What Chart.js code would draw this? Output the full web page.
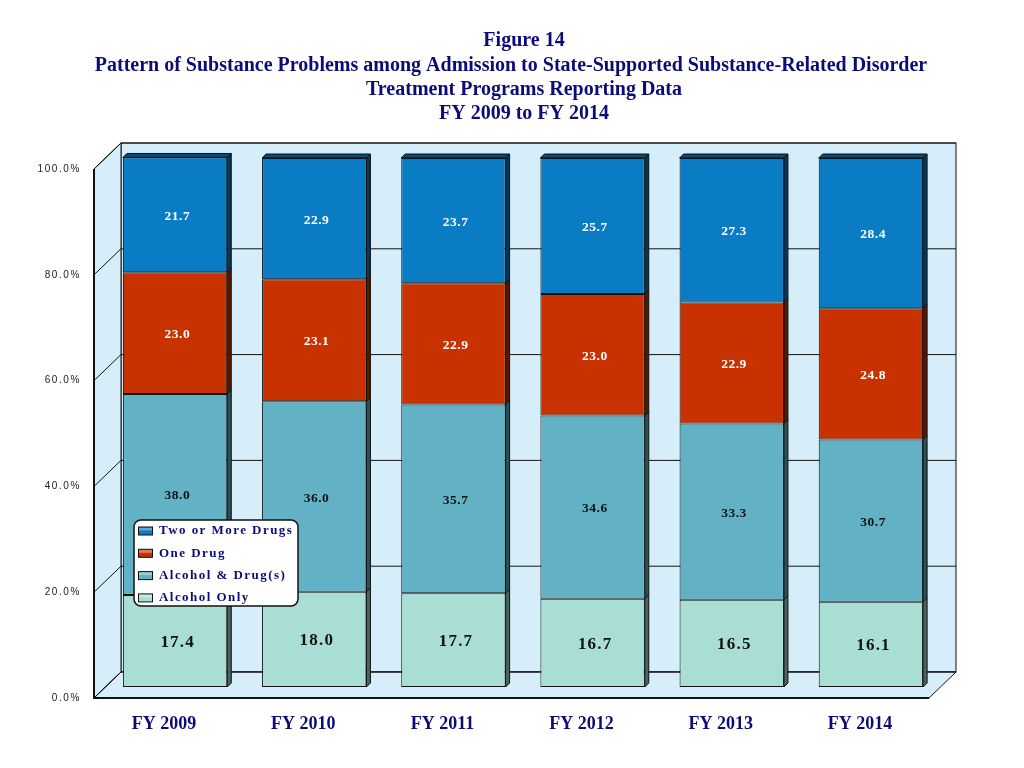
<!DOCTYPE html>
<html>
<head>
<meta charset="utf-8">
<script src="https://cdn.jsdelivr.net/npm/chart.js@4.4.0/dist/chart.umd.min.js"></script>
<style>
    body { margin: 0; background: #fff; }
    #wrap { width: 1024px; height: 768px; }
</style>
</head>
<body>
<div id="wrap"><canvas id="myChart" width="1024" height="768"></canvas></div>
<script>
const years = ['FY 2009', 'FY 2010', 'FY 2011', 'FY 2012', 'FY 2013', 'FY 2014'];
const alcoholOnly = [17.4, 18.0, 17.7, 16.7, 16.5, 16.1];
const alcoholDrugs = [38.0, 36.0, 35.7, 34.6, 33.3, 30.7];
const oneDrug = [23.0, 23.1, 22.9, 23.0, 22.9, 24.8];
const twoOrMore = [21.7, 22.9, 23.7, 25.7, 27.3, 28.4];
const yTicks = [0, 20, 40, 60, 80, 100];
const titleLines = [
    'Figure 14',
    'Pattern of Substance Problems among Admission to State-Supported Substance-Related Disorder',
    'Treatment Programs Reporting Data',
    'FY 2009 to FY 2014'
];

const navy = '#0c0c78';
const wall = '#d5eefa';
// offsets of the front and back planes from the plane the bars sit in
const front = { x: -11.5, y: 11 };
const back = { x: 15.5, y: -15 };
const depth = 4;

function shade(hex, f) {
    const n = parseInt(hex.slice(1), 16);
    const r = Math.round(((n >> 16) & 255) * f);
    const g = Math.round(((n >> 8) & 255) * f);
    const b = Math.round((n & 255) * f);
    return `rgb(${r},${g},${b})`;
}

function textSpaced(ctx, txt, x, y, spacing) {
    ctx.letterSpacing = spacing + 'px';
    ctx.fillText(txt, x, y);
    ctx.letterSpacing = '0px';
}

const walls = {
    id: 'walls',
    beforeDatasetsDraw(chart) {
        const ctx = chart.ctx;
        const a = chart.chartArea;
        const ys = chart.scales.y;
        const y0 = ys.getPixelForValue(0);
        const y100 = ys.getPixelForValue(100);
        ctx.save();
        ctx.fillStyle = wall;
        ctx.strokeStyle = '#111';
        ctx.lineWidth = 1;
        // back wall
        ctx.fillRect(a.left + back.x, y100 + back.y, a.right - a.left, y0 - y100);
        ctx.strokeRect(a.left + back.x, y100 + back.y, a.right - a.left, y0 - y100);
        // left wall
        ctx.beginPath();
        ctx.moveTo(a.left + front.x, y100 + front.y);
        ctx.lineTo(a.left + back.x, y100 + back.y);
        ctx.lineTo(a.left + back.x, y0 + back.y);
        ctx.lineTo(a.left + front.x, y0 + front.y);
        ctx.closePath();
        ctx.fill();
        ctx.stroke();
        // floor
        ctx.beginPath();
        ctx.moveTo(a.left + front.x, y0 + front.y);
        ctx.lineTo(a.left + back.x, y0 + back.y);
        ctx.lineTo(a.right + back.x, y0 + back.y);
        ctx.lineTo(a.right + front.x, y0 + front.y);
        ctx.closePath();
        ctx.fill();
        ctx.stroke();
        // grid lines on back wall and left wall
        ctx.beginPath();
        yTicks.forEach((v) => {
            const py = ys.getPixelForValue(v);
            ctx.moveTo(a.left + front.x, py + front.y);
            ctx.lineTo(a.left + back.x, py + back.y);
            ctx.lineTo(a.right + back.x, py + back.y);
        });
        ctx.stroke();
        // thick front edges
        ctx.lineWidth = 2;
        ctx.beginPath();
        ctx.moveTo(a.left + front.x, y100 + front.y);
        ctx.lineTo(a.left + front.x, y0 + front.y);
        ctx.lineTo(a.right + front.x, y0 + front.y);
        ctx.stroke();
        // y labels at the front plane
        ctx.fillStyle = '#222';
        ctx.font = '10px "Liberation Sans", Arial, sans-serif';
        ctx.textAlign = 'right';
        ctx.textBaseline = 'middle';
        yTicks.forEach((v) => {
            const py = ys.getPixelForValue(v) + front.y;
            textSpaced(ctx, v.toFixed(1) + '%', 81, py, 1.6);
        });
        ctx.restore();
    },
    afterDatasetsDraw(chart) {
        const ctx = chart.ctx;
        const sets = chart.data.datasets;
        ctx.save();
        ctx.strokeStyle = '#111';
        ctx.lineWidth = 1;
        sets.forEach((ds, i) => {
            const meta = chart.getDatasetMeta(i);
            meta.data.forEach((bar) => {
                const r = bar.x + bar.width / 2;
                const l = bar.x - bar.width / 2;
                const top = Math.min(bar.y, bar.base);
                const bot = Math.max(bar.y, bar.base);
                ctx.fillStyle = shade(ds.backgroundColor, 0.45);
                ctx.beginPath();
                ctx.moveTo(r, top);
                ctx.lineTo(r + depth, top - depth);
                ctx.lineTo(r + depth, bot - depth);
                ctx.lineTo(r, bot);
                ctx.closePath();
                ctx.fill();
                ctx.stroke();
                if (i === sets.length - 1) {
                    ctx.fillStyle = shade(ds.backgroundColor, 0.6);
                    ctx.beginPath();
                    ctx.moveTo(l, top);
                    ctx.lineTo(l + depth, top - depth);
                    ctx.lineTo(r + depth, top - depth);
                    ctx.lineTo(r, top);
                    ctx.closePath();
                    ctx.fill();
                    ctx.stroke();
                }
            });
        });
        // value labels
        ctx.textAlign = 'center';
        ctx.textBaseline = 'middle';
        sets.forEach((ds, i) => {
            const meta = chart.getDatasetMeta(i);
            ctx.fillStyle = ds.labelColor;
            ctx.font = ds.labelFont;
            meta.data.forEach((bar, j) => {
                const cy = (bar.y + bar.base) / 2 + 1.5;
                textSpaced(ctx, ds.data[j].toFixed(1), bar.x + 2 + ds.labelSpacing / 2, cy, ds.labelSpacing);
            });
        });
        // legend
        const lx = 134, ly = 520, lw = 164, lh = 86;
        ctx.fillStyle = '#fff';
        ctx.strokeStyle = '#111';
        ctx.lineWidth = 1.5;
        ctx.beginPath();
        ctx.roundRect(lx, ly, lw, lh, 7);
        ctx.fill();
        ctx.stroke();
        ctx.lineWidth = 1;
        ctx.font = 'bold 13px "Liberation Serif", "Times New Roman", serif';
        ctx.textAlign = 'left';
        for (let k = 0; k < sets.length; k++) {
            const ds = sets[sets.length - 1 - k];
            const cy = ly + 11 + k * 22.3;
            ctx.fillStyle = ds.backgroundColor;
            ctx.fillRect(138.5, cy - 4, 14, 8);
            ctx.fillStyle = 'rgba(255,255,255,0.35)';
            ctx.fillRect(139, cy - 3.5, 13, 3);
            ctx.strokeRect(138.5, cy - 4, 14, 8);
            ctx.fillStyle = navy;
            textSpaced(ctx, ds.label, 159, cy, 1.45);
        }
        ctx.restore();
    },
    afterDraw(chart) {
        const ctx = chart.ctx;
        ctx.save();
        ctx.fillStyle = navy;
        ctx.font = 'bold 20px "Liberation Serif", "Times New Roman", serif';
        ctx.textAlign = 'center';
        ctx.textBaseline = 'middle';
        titleLines.forEach((t, k) => {
            const cx = k === 1 ? 511 : 524;
            ctx.fillText(t, cx, 41 + k * 24.4, 834);
        });
        ctx.restore();
    }
};

const ctx = document.getElementById('myChart');
let chart = new Chart(ctx, {
    type: 'bar',
    data: {
        labels: years,
        datasets: [{
            label: 'Alcohol Only',
            data: alcoholOnly,
            backgroundColor: '#a9ded4',
            labelColor: '#111',
            labelFont: 'bold 17px "Liberation Serif", serif',
            labelSpacing: 1.2
        }, {
            label: 'Alcohol & Drug(s)',
            data: alcoholDrugs,
            backgroundColor: '#62b1c4',
            labelColor: '#111',
            labelFont: 'bold 13.5px "Liberation Serif", serif',
            labelSpacing: 0.5
        }, {
            label: 'One Drug',
            data: oneDrug,
            backgroundColor: '#c83200',
            labelColor: '#fff',
            labelFont: 'bold 13.5px "Liberation Serif", serif',
            labelSpacing: 0.5
        }, {
            label: 'Two or More Drugs',
            data: twoOrMore,
            backgroundColor: '#0a7cc4',
            labelColor: '#fff',
            labelFont: 'bold 13.5px "Liberation Serif", serif',
            labelSpacing: 0.5
        }]
    },
    options: {
        responsive: false,
        animation: false,
        layout: {
            padding: { left: 105.5, right: 83.5, top: 158, bottom: 0 }
        },
        datasets: {
            bar: {
                borderColor: '#111',
                borderWidth: 1,
                borderSkipped: false,
                categoryPercentage: 1,
                barPercentage: 0.75,
                clip: false
            }
        },
        scales: {
            x: {
                stacked: true,
                grid: { display: false, drawTicks: false },
                border: { display: false },
                ticks: {
                    color: navy,
                    font: { family: '"Liberation Serif", serif', size: 18, weight: 'bold' },
                    labelOffset: -11,
                    padding: 27
                },
                afterFit: (scale) => { scale.height = 81; }
            },
            y: {
                stacked: true,
                display: false,
                min: 0,
                max: 100
            }
        },
        plugins: {
            legend: { display: false },
            tooltip: { enabled: false }
        }
    },
    plugins: [walls]
});
</script>
</body>
</html>
